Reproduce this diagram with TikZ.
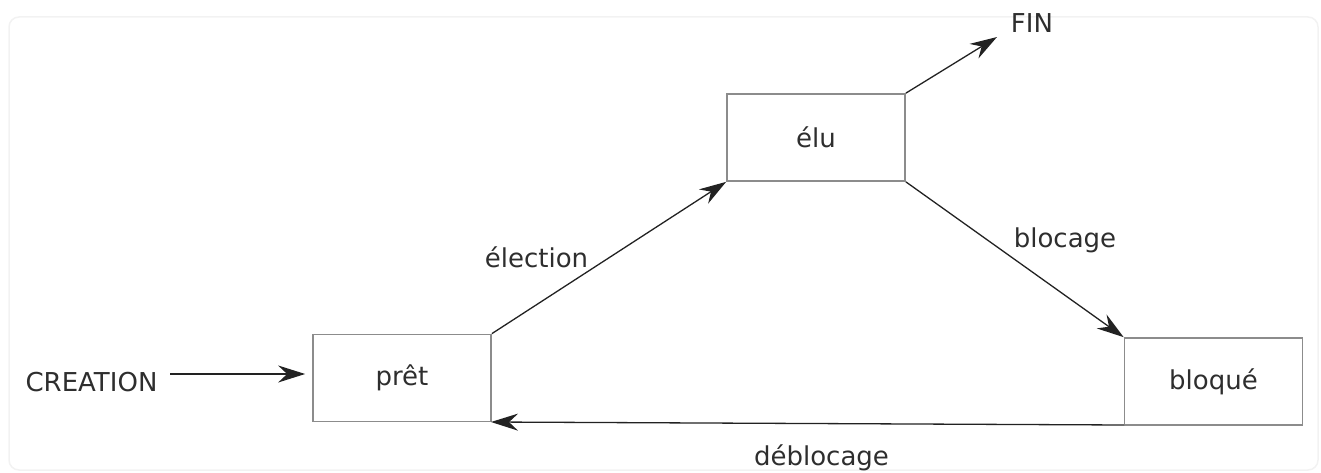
\documentclass[tikz,border=0pt]{standalone}
\usepackage{fontspec}
\setmainfont{DejaVu Sans}
\usetikzlibrary{arrows.meta}
\definecolor{txt}{HTML}{2E2E2E}
\definecolor{boxline}{HTML}{8C8C8C}
\definecolor{arrline}{HTML}{222222}
\definecolor{card}{HTML}{F2F2F2}
\begin{document}
\begin{tikzpicture}[x=1pt,y=-1pt,
  statebox/.style={draw=boxline, line width=1.7pt, minimum width=178pt, minimum height=87pt, inner sep=0pt, font=\fontsize{26}{30}\selectfont, text=txt},
  lbl/.style={inner sep=0pt, font=\fontsize{26}{30}\selectfont, text=txt},
  arr/.style={draw=arrline, line width=1.3pt, -{Stealth[length=27pt,width=17pt,inset=9pt]}}]
\useasboundingbox (0,0) rectangle (1321,473);
\draw[card, line width=1.5pt, rounded corners=10pt] (9,17) rectangle (1318,470);

\node[statebox] (pret) at (402,378) {prêt};
\node[statebox] (elu) at (816,137.5) {élu};
\node[statebox] (bloque) at (1213.5,381.5) {bloqué};

\node[lbl, anchor=base] (creation) at (91.5,391) {CREATION};
\node[lbl, anchor=base] (fin) at (1032,33) {FIN};
\node[lbl, anchor=base] (election) at (536.5,267) {élection};
\node[lbl, anchor=base] (blocage) at (1065,247) {blocage};
\node[lbl, anchor=base] (deblocage) at (821.5,465) {déblocage};

\coordinate (cstart) at (170,374);
\coordinate (finend) at (997,37);
\coordinate (debstart) at (1124,425);
\coordinate (debend) at (491,422);

\draw[arr, shorten >=7pt] (cstart) -- (pret.west |- cstart);
\draw[arr] (elu.north east) -- (finend);
\draw[arr] (pret.north east) -- (elu.south west);
\draw[arr] (elu.south east) -- (bloque.north west);
\draw[arr] (debstart) -- (debend);
\end{tikzpicture}
\end{document}
